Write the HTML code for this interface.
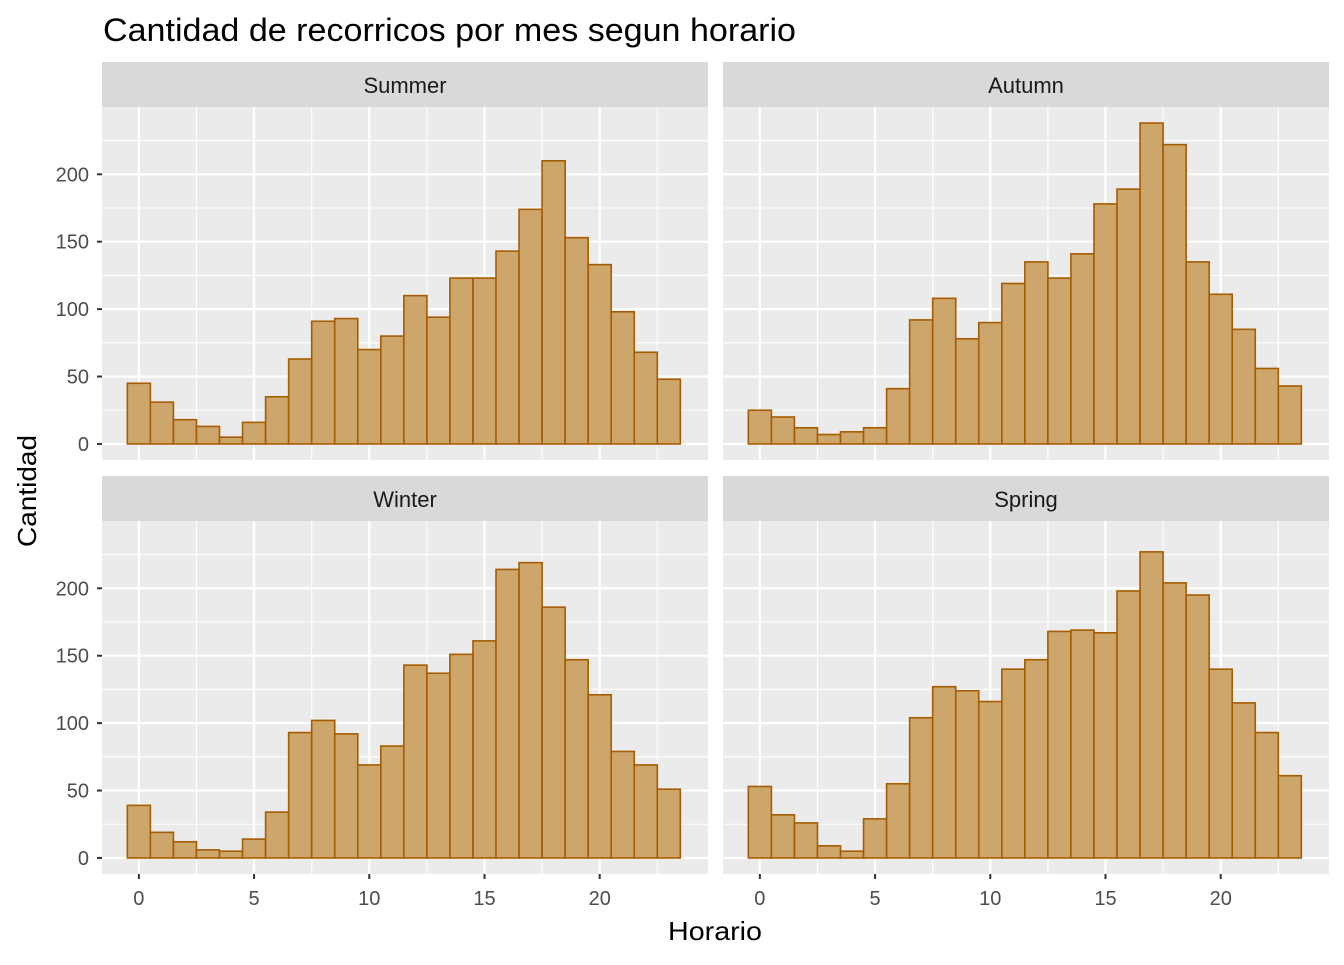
<!DOCTYPE html>
<html><head><meta charset="utf-8">
<style>
body{margin:0;background:#fff;}
svg text{font-family:"Liberation Sans",Arial,sans-serif;}
</style></head>
<body>
<svg id="chart" width="1344" height="960" xmlns="http://www.w3.org/2000/svg">
<text x="103" y="41" font-size="32" textLength="693" lengthAdjust="spacingAndGlyphs" fill="#000">Cantidad de recorricos por mes segun horario</text>
<text x="715" y="940" font-size="26" textLength="94" lengthAdjust="spacingAndGlyphs" fill="#000" text-anchor="middle">Horario</text>
<text transform="translate(36,491) rotate(-90)" font-size="26" textLength="112" lengthAdjust="spacingAndGlyphs" fill="#000" text-anchor="middle">Cantidad</text>
</svg>
<script>
const panelNames = ["Summer","Autumn","Winter","Spring"];
const hours = [0,1,2,3,4,5,6,7,8,9,10,11,12,13,14,15,16,17,18,19,20,21,22,23];
const summerCounts = [45,31,18,13,5,16,35,63,91,93,70,80,110,94,123,123,143,174,210,153,133,98,68,48];
const autumnCounts = [25,20,12,7,9,12,41,92,108,78,90,119,135,123,141,178,189,238,222,135,111,85,56,43];
const winterCounts = [39,19,12,6,5,14,34,93,102,92,69,83,143,137,151,161,214,219,186,147,121,79,69,51];
const springCounts = [53,32,26,9,5,29,55,104,127,124,116,140,147,168,169,167,198,227,204,195,140,115,93,61];
const xTicks = [0,5,10,15,20];
const yTicks = [0,50,100,150,200];

const seriesList=[summerCounts,autumnCounts,winterCounts,springCounts];
const svg=document.getElementById('chart');
const NS="http://www.w3.org/2000/svg";
function mk(tag,attrs,parent){const e=document.createElementNS(NS,tag);for(const k in attrs)e.setAttribute(k,attrs[k]);(parent||svg).appendChild(e);return e;}
const panels=[{x:102,y:107},{x:723,y:107},{x:102,y:521},{x:723,y:521}];
const PW=606,PH=353,xmin=-1.6,xmax=24.7;
const allVals=[].concat(...seriesList);
const ymaxData=Math.max(...allVals);
const ylo=-0.05*ymaxData,yhi=1.05*ymaxData;
panels.forEach((p,i)=>{
  const g=mk('g',{});
  
  
  const sx=v=>p.x+(v-xmin)/(xmax-xmin)*PW;
  const sy=v=>p.y+PH-(v-ylo)/(yhi-ylo)*PH;
  mk('rect',{x:p.x,y:p.y,width:PW,height:PH,fill:'#EBEBEB'},g);
  const st=mk('rect',{x:p.x,y:p.y-45,width:PW,height:45,fill:'#D9D9D9'},g);
  
  
  const stt=mk('text',{x:p.x+PW/2,y:p.y-14,'font-size':22,fill:'#1A1A1A','text-anchor':'middle'},g);
  stt.textContent=panelNames[i];
  
  
  for(let k=0;k<yTicks.length;k++){const v=yTicks[k]+25;const y=sy(v);if(y>p.y)mk('line',{x1:p.x,x2:p.x+PW,y1:y,y2:y,stroke:'#fff','stroke-width':1.1},g);}
  for(let k=-1;k<xTicks.length;k++){const v=(k<0?0:xTicks[k])+(k<0?-2.5:2.5);const x=sx(v);if(x>p.x&&x<p.x+PW)mk('line',{x1:x,x2:x,y1:p.y,y2:p.y+PH,stroke:'#fff','stroke-width':1.1},g);}
  yTicks.forEach(v=>{const y=sy(v);mk('line',{x1:p.x,x2:p.x+PW,y1:y,y2:y,stroke:'#fff','stroke-width':2.2},g);
    if(i%2==0){mk('line',{x1:p.x-5,x2:p.x,y1:y,y2:y,stroke:'#333','stroke-width':2},g);
      const t=mk('text',{x:p.x-13,y:y+7,'font-size':20,fill:'#4D4D4D','text-anchor':'end'},g);t.textContent=v;
      }});
  xTicks.forEach(v=>{const x=sx(v);mk('line',{x1:x,x2:x,y1:p.y,y2:p.y+PH,stroke:'#fff','stroke-width':2.2},g);
    if(i>=2){mk('line',{x1:x,x2:x,y1:p.y+PH,y2:p.y+PH+5,stroke:'#333','stroke-width':2},g);
      const t=mk('text',{x:x,y:p.y+PH+31,'font-size':20,fill:'#4D4D4D','text-anchor':'middle'},g);t.textContent=v;
      }});
  const data=seriesList[i];
  hours.forEach((h,j)=>{const x0=sx(h-0.5),x1=sx(h+0.5),y0=sy(0),y1=sy(data[j]);
    const b=mk('rect',{x:x0,y:y1,width:x1-x0,height:y0-y1,fill:'#CDA66B',stroke:'#A65C00','stroke-width':1.6},g);
    
    });
});
</script>
</body></html>
